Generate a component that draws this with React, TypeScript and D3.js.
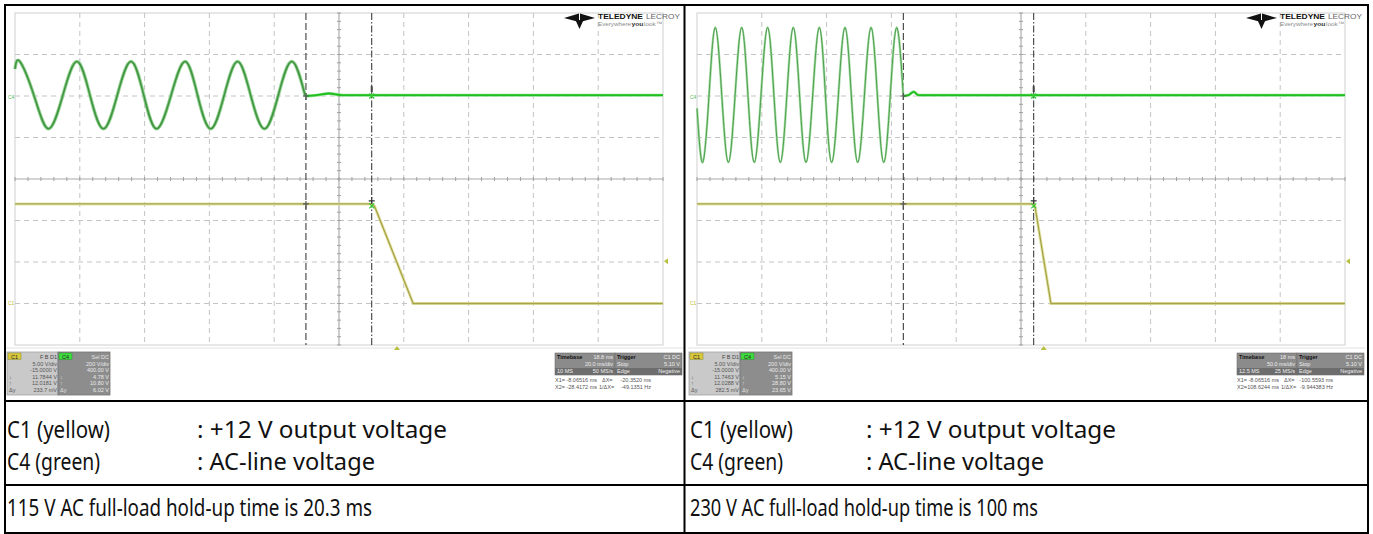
import React from "react";
import * as d3 from "d3";

const WIDTH = 1373;
const HEIGHT = 534;

// ---------- Panel 1 : 115 V AC, 20 ms/div ----------
const p1TimePerDiv = 20; // ms
const p1AcTimes = [0, 1.5, 5.9, 10.3, 14.7, 19.1, 23.2, 27.3, 31.5, 35.8, 39.8, 43.7, 48.1, 52.5, 56.4, 60.4, 64.5, 68.7, 72.8, 77.0, 81.2, 85.4, 89.6];
const p1AcVolts = [130, 166, 0, -158, 0, 166, 0, -158, 0, 166, 0, -158, 0, 166, 0, -158, 0, 166, 0, -158, 0, 166, 0];
const p1AcOffTimes = [89.6, 93, 97, 101, 110.1, 200];
const p1AcOffVolts = [0, 4, 12, 4, 4, 4];
const p1OutTimes = [0, 110.1, 111, 122.9, 200];
const p1OutVolts = [12.0, 12.0, 11.7, 0, 0];
const p1Cursors = [89.8, 110.1];
const p1TriggerTime = 117.9;

// ---------- Panel 2 : 230 V AC, 50 ms/div ----------
const p2TimePerDiv = 50; // ms
const p2AcTimes = [0, 4.4, 9.25, 14.1, 19.15, 24.2, 29.35, 34.5, 39.35, 44.2, 49.35, 54.5, 59.4, 64.3, 69.3, 74.3, 79.2, 84.1, 89.25, 94.4, 99.15, 103.9, 109.05, 114.2, 119.1, 124.0, 129.15, 134.3, 139.2, 144.1, 149.1, 154.1, 159.2];
const p2AcVolts = [-60, -320, 0, 330, 0, -320, 0, 330, 0, -320, 0, 330, 0, -320, 0, 330, 0, -320, 0, 330, 0, -320, 0, 330, 0, -320, 0, 330, 0, -320, 0, 330, 0];
const p2AcOffTimes = [159.2, 163, 167.2, 171, 259.8, 500];
const p2AcOffVolts = [0, 4, 20, 4, 4, 4];
const p2OutTimes = [0, 259.8, 260.8, 273.1, 500];
const p2OutVolts = [12.0, 12.0, 11.7, 0, 0];
const p2Cursors = [159.2, 259.8];
const p2TriggerTime = 267.5;

// ---------- Vertical settings ----------
const c1VoltsPerDiv = 5;
const c1Offset = -15;
const c4VoltsPerDiv = 200;
const c4Offset = 400;
const triggerLevel = 5.1;

// ---------- Readout texts ----------
const c1InfoHeader = "F B D1";
const c4InfoHeader = "Sel DC";
const p1C1Info = ["5.00 V/div", "-15.0000 V", "11.7844 V", "12.0181 V", "233.7 mV"];
const p1C4Info = ["200 V/div", "400.00 V", "4.78 V", "10.80 V", "6.02 V"];
const p2C1Info = ["5.00 V/div", "-15.0000 V", "11.7463 V", "12.0288 V", "282.5 mV"];
const p2C4Info = ["200 V/div", "400.00 V", "5.15 V", "28.80 V", "23.65 V"];
const p1Timebase = ["18.8 ms", "20.0 ms/div", "10 MS", "50 MS/s"];
const p2Timebase = ["18 ms", "50.0 ms/div", "12.5 MS", "25 MS/s"];
const triggerInfo = ["C1 DC", "5.10 V", "Negative"];
const p1CursorInfo = ["-8.06516 ms", "-28.4172 ms", "-20.3520 ms", "-49.1351 Hz"];
const p2CursorInfo = ["-8.06516 ms", "-108.6244 ms", "-100.5593 ms", "-9.944383 Hz"];

// ---------- Table texts ----------
const channelLabels = ["C1 (yellow)", "C4 (green)"];
const channelDescs = [": +12 V output voltage", ": AC-line voltage"];
const captions = ["115 V AC full-load hold-up time is 20.3 ms", "230 V AC full-load hold-up time is 100 ms"];

const GRID_L = 15;
const GRID_R = 663;
const GRID_T = 13;
const GRID_B = 345;
const PANEL_DX = [0, 682];

const zip = (a: number[], b: number[]) => a.map((v, i) => [v, b[i]] as [number, number]);

type ScopeProps = {
  dx: number;
  tpd: number;
  acT: number[];
  acV: number[];
  offT: number[];
  offV: number[];
  outT: number[];
  outV: number[];
  cursors: number[];
  trigT: number;
  c1Info: string[];
  c4Info: string[];
  tb: string[];
  cur: string[];
  thin: boolean;
};

const SMALL = "Liberation Sans, Arial, sans-serif";

function Scope(p: ScopeProps) {
  const { dx } = p;
  const x = d3.scaleLinear().domain([0, 10 * p.tpd]).range([GRID_L + dx, GRID_R + dx]);
  const c1Center = -c1Offset;
  const y1 = d3.scaleLinear().domain([c1Center - 4 * c1VoltsPerDiv, c1Center + 4 * c1VoltsPerDiv]).range([GRID_B, GRID_T]);
  const c4Center = -c4Offset;
  const y4 = d3.scaleLinear().domain([c4Center - 4 * c4VoltsPerDiv, c4Center + 4 * c4VoltsPerDiv]).range([GRID_B, GRID_T]);

  const xDivs = d3.range(0, 11).map((i) => x(i * p.tpd));
  const yDivs = d3.range(0, 9).map((i) => y1(c1Center - 4 * c1VoltsPerDiv + i * c1VoltsPerDiv));
  const xMinor = d3.range(0, 51).map((i) => x((i * p.tpd) / 5));
  const yMinor = d3.range(0, 41).map((i) => y1(c1Center - 4 * c1VoltsPerDiv + (i * c1VoltsPerDiv) / 5));
  const xc = x(5 * p.tpd);
  const yc = y1(c1Center);

  const acLine = d3.line<[number, number]>().x((d) => x(d[0])).y((d) => y4(d[1])).curve(d3.curveNatural);
  const flatLine = d3.line<[number, number]>().x((d) => x(d[0])).y((d) => y4(d[1])).curve(d3.curveMonotoneX);
  const outLine = d3.line<[number, number]>().x((d) => x(d[0])).y((d) => y1(d[1]));

  const acPath = acLine(zip(p.acT, p.acV)) || "";
  const offPath = flatLine(zip(p.offT, p.offV)) || "";
  const outPath = outLine(zip(p.outT, p.outV)) || "";

  const x1 = x(p.cursors[0]);
  const x2 = x(p.cursors[1]);
  const y4z = y4(0);
  const y1hi = y1(12);
  const xt = x(p.trigT);
  const yt = y1(triggerLevel);

  const infoRows = [365.5, 372, 378.5, 385, 391.5];

  return (
    <g>
      {/* scope screen background */}
      <rect x={6 + dx} y={6} width={677} height={394} fill="#ffffff" />
      <rect x={GRID_L + dx} y={GRID_T} width={GRID_R - GRID_L} height={GRID_B - GRID_T} fill="#ffffff" stroke="#cfcfcf" strokeWidth={1} />
      <line x1={6 + dx} x2={683 + dx} y1={348} y2={348} stroke="#e2e2e2" strokeWidth={1} />

      {/* dashed grid */}
      {xDivs.slice(1, 10).map((gx, i) =>
        i === 4 ? null : (
          <line key={"gx" + i} x1={gx} x2={gx} y1={GRID_T} y2={GRID_B} stroke="#c4c4c4" strokeWidth={1} strokeDasharray="5,4" />
        )
      )}
      {yDivs.slice(1, 8).map((gy, i) =>
        i === 3 ? null : (
          <line key={"gy" + i} x1={GRID_L + dx} x2={GRID_R + dx} y1={gy} y2={gy} stroke="#c4c4c4" strokeWidth={1} strokeDasharray="5,4" />
        )
      )}
      {/* center axes with minor ticks */}
      <line x1={xc} x2={xc} y1={GRID_T} y2={GRID_B} stroke="#9a9a9a" strokeWidth={1} />
      <line x1={GRID_L + dx} x2={GRID_R + dx} y1={yc} y2={yc} stroke="#a8a8a8" strokeWidth={1} />
      {xMinor.map((mx, i) => (
        <line key={"mx" + i} x1={mx} x2={mx} y1={yc - 2} y2={yc + 2} stroke="#a0a0a0" strokeWidth={1} />
      ))}
      {yMinor.map((my, i) => (
        <line key={"my" + i} x1={xc - 2} x2={xc + 2} y1={my} y2={my} stroke="#a0a0a0" strokeWidth={1} />
      ))}

      {/* cursors */}
      <line x1={x1} x2={x1} y1={GRID_T} y2={GRID_B} stroke="#2a2a2a" strokeWidth={1} strokeDasharray="7,3" />
      <line x1={x2} x2={x2} y1={GRID_T} y2={GRID_B} stroke="#2a2a2a" strokeWidth={1} strokeDasharray="7,2,1.5,2" />

      {/* C1 trace (yellow) */}
      <path d={outPath} fill="none" stroke="#e4e4a8" strokeWidth={3} />
      <path d={outPath} fill="none" stroke="#a8a44a" strokeWidth={1.3} />

      {/* C4 trace (green) */}
      <path d={acPath} fill="none" stroke={p.thin ? "#a6dca6" : "#93d093"} strokeWidth={p.thin ? 2.4 : 3.4} />
      <path d={acPath} fill="none" stroke={p.thin ? "#4c9e4c" : "#3f963f"} strokeWidth={p.thin ? 1 : 1.5} />
      <path d={offPath} fill="none" stroke="#8fe08f" strokeWidth={3} />
      <path d={offPath} fill="none" stroke="#1fbf1f" strokeWidth={1.8} />

      {/* cursor markers */}
      <path d={`M${x1 - 3},${y4z}H${x1 + 3}M${x1},${y4z - 3}V${y4z + 4}`} stroke="#555" strokeWidth={1.2} />
      <path d={`M${x1 - 3},${y1hi}H${x1 + 3}M${x1},${y1hi - 3}V${y1hi + 5}`} stroke="#555" strokeWidth={1.2} />
      <rect x={x2 - 1} y={y4z - 10} width={2} height={6} fill="#444" />
      <path d={`M${x2 - 2.5},${y4z - 2.5}L${x2 + 2.5},${y4z + 2.5}M${x2 + 2.5},${y4z - 2.5}L${x2 - 2.5},${y4z + 2.5}`} stroke="#33cc33" strokeWidth={1.2} />
      <path d={`M${x2 - 3},${y1hi - 3}H${x2 + 3}M${x2},${y1hi - 7}V${y1hi}`} stroke="#333" strokeWidth={1.2} />
      <path d={`M${x2 - 2.5},${y1hi - 0.5}L${x2 + 2.5},${y1hi + 4.5}M${x2 + 2.5},${y1hi - 0.5}L${x2 - 2.5},${y1hi + 4.5}`} stroke="#33cc33" strokeWidth={1.2} />

      {/* trigger markers */}
      <path d={`M${xt},${GRID_B + 1}l-3,4h6z`} fill="#b8c040" />
      <path d={`M${GRID_R + dx + 1},${yt}l4,-3v6z`} fill="#b8c040" />

      {/* channel ground labels */}
      <text x={8 + dx} y={99} fontSize={5} fill="#55bb55" fontFamily={SMALL}>C4</text>
      <text x={8 + dx} y={305} fontSize={5} fill="#c8b830" fontFamily={SMALL}>C1</text>

      {/* logo */}
      <g transform={`translate(${564 + dx},12)`}>
        <polygon points="0,6 15,1.5 15,10" fill="#111" />
        <polygon points="31,6 16,1.5 16,10" fill="#111" />
        <polygon points="11.5,8 19.5,8 15.5,17" fill="#111" />
      </g>
      <text x={598 + dx} y={19} fontSize={8} fontWeight="bold" fill="#111" fontFamily={SMALL} textLength={45} lengthAdjust="spacingAndGlyphs">TELEDYNE</text>
      <text x={646 + dx} y={19} fontSize={8} fill="#666" fontFamily={SMALL} textLength={34} lengthAdjust="spacingAndGlyphs">LECROY</text>
      <text x={598 + dx} y={26} fontSize={6.2} fill="#8a8a8a" fontFamily={SMALL} textLength={33} lengthAdjust="spacingAndGlyphs">Everywhere</text>
      <text x={631.5 + dx} y={26} fontSize={6.2} fontWeight="bold" fill="#333" fontFamily={SMALL} textLength={12} lengthAdjust="spacingAndGlyphs">you</text>
      <text x={644 + dx} y={26} fontSize={6.2} fill="#8a8a8a" fontFamily={SMALL} textLength={18} lengthAdjust="spacingAndGlyphs">look™</text>

      {/* C1 readout */}
      <rect x={7 + dx} y={352} width={51} height={43} fill="#c9c9c9" stroke="#a3a3a3" strokeWidth={0.8} />
      <rect x={8 + dx} y={353} width={13} height={6.5} fill="#d9c83a" stroke="#8a8a30" strokeWidth={0.5} />
      <text x={14.5 + dx} y={358.5} fontSize={5.5} textAnchor="middle" fill="#222" fontFamily={SMALL}>C1</text>
      <text x={57 + dx} y={358.5} fontSize={5.5} textAnchor="end" fill="#444" fontFamily={SMALL}>{c1InfoHeader}</text>
      {p.c1Info.map((s, i) => (
        <text key={"c1i" + i} x={57 + dx} y={infoRows[i]} fontSize={5.5} textAnchor="end" fill="#555" fontFamily={SMALL}>{s}</text>
      ))}
      {["↓", "↑", "Δy"].map((s, i) => (
        <text key={"c1s" + i} x={9 + dx} y={infoRows[i + 2]} fontSize={5.5} fill="#555" fontFamily={SMALL}>{s}</text>
      ))}

      {/* C4 readout */}
      <rect x={58 + dx} y={352} width={52} height={43} fill="#8d8d8d" stroke="#777" strokeWidth={0.8} />
      <rect x={59 + dx} y={353} width={13} height={6.5} fill="#3fdc3f" stroke="#2a8a2a" strokeWidth={0.5} />
      <text x={65.5 + dx} y={358.5} fontSize={5.5} textAnchor="middle" fill="#222" fontFamily={SMALL}>C4</text>
      <text x={109 + dx} y={358.5} fontSize={5.5} textAnchor="end" fill="#e6e6e6" fontFamily={SMALL}>{c4InfoHeader}</text>
      {p.c4Info.map((s, i) => (
        <text key={"c4i" + i} x={109 + dx} y={infoRows[i]} fontSize={5.5} textAnchor="end" fill="#eaeaea" fontFamily={SMALL}>{s}</text>
      ))}
      {["↓", "↑", "Δy"].map((s, i) => (
        <text key={"c4s" + i} x={60 + dx} y={infoRows[i + 2]} fontSize={5.5} fill="#e0e0e0" fontFamily={SMALL}>{s}</text>
      ))}

      {/* timebase / trigger readout */}
      <rect x={555 + dx} y={353} width={60} height={22} fill="#8b8b8b" stroke="#707070" strokeWidth={0.6} />
      <rect x={555 + dx} y={368} width={60} height={7} fill="#6d6d6d" />
      <rect x={615 + dx} y={353} width={67} height={22} fill="#8b8b8b" stroke="#707070" strokeWidth={0.6} />
      <rect x={615 + dx} y={368} width={67} height={7} fill="#6d6d6d" />
      <text x={557 + dx} y={358.5} fontSize={5.5} fontWeight="bold" fill="#111" fontFamily={SMALL}>Timebase</text>
      <text x={613 + dx} y={358.5} fontSize={5.5} textAnchor="end" fill="#eee" fontFamily={SMALL}>{p.tb[0]}</text>
      <text x={613 + dx} y={365.5} fontSize={5.5} textAnchor="end" fill="#eee" fontFamily={SMALL}>{p.tb[1]}</text>
      <text x={557 + dx} y={373} fontSize={5.5} fill="#eee" fontFamily={SMALL}>{p.tb[2]}</text>
      <text x={613 + dx} y={373} fontSize={5.5} textAnchor="end" fill="#eee" fontFamily={SMALL}>{p.tb[3]}</text>
      <text x={617 + dx} y={358.5} fontSize={5.5} fontWeight="bold" fill="#111" fontFamily={SMALL}>Trigger</text>
      <text x={680 + dx} y={358.5} fontSize={5.5} textAnchor="end" fill="#eee" fontFamily={SMALL}>{triggerInfo[0]}</text>
      <text x={617 + dx} y={365.5} fontSize={5.5} fill="#eee" fontFamily={SMALL}>Stop</text>
      <text x={680 + dx} y={365.5} fontSize={5.5} textAnchor="end" fill="#eee" fontFamily={SMALL}>{triggerInfo[1]}</text>
      <text x={617 + dx} y={373} fontSize={5.5} fill="#eee" fontFamily={SMALL}>Edge</text>
      <text x={680 + dx} y={373} fontSize={5.5} textAnchor="end" fill="#eee" fontFamily={SMALL}>{triggerInfo[2]}</text>

      {/* cursor readout */}
      <text x={555 + dx} y={382} fontSize={5.5} fill="#555" fontFamily={SMALL}>X1=</text>
      <text x={597 + dx} y={382} fontSize={5.5} textAnchor="end" fill="#555" fontFamily={SMALL}>{p.cur[0]}</text>
      <text x={602 + dx} y={382} fontSize={5.5} fill="#555" fontFamily={SMALL}>ΔX=</text>
      <text x={651 + dx} y={382} fontSize={5.5} textAnchor="end" fill="#555" fontFamily={SMALL}>{p.cur[2]}</text>
      <text x={555 + dx} y={389} fontSize={5.5} fill="#555" fontFamily={SMALL}>X2=</text>
      <text x={597 + dx} y={389} fontSize={5.5} textAnchor="end" fill="#555" fontFamily={SMALL}>{p.cur[1]}</text>
      <text x={599 + dx} y={389} fontSize={5.5} fill="#555" fontFamily={SMALL}>1/ΔX=</text>
      <text x={651 + dx} y={389} fontSize={5.5} textAnchor="end" fill="#555" fontFamily={SMALL}>{p.cur[3]}</text>
    </g>
  );
}

const TABLE_FONT = "'Noto Sans', 'Open Sans', sans-serif";
const labelWidths = [103, 93];
const descWidths = [250, 178];
const captionWidths = [365, 348];

export default function App() {
  const colX = [7, 690];
  const descX = [197, 866];
  const rowBase = [438, 470];
  return (
    <svg
      width={WIDTH}
      height={HEIGHT}
      viewBox={`0 0 ${WIDTH} ${HEIGHT}`}
      style={{ position: "absolute", left: 0, top: 0, display: "block", background: "#fff" }}
    >
      <rect x={0} y={0} width={WIDTH} height={HEIGHT} fill="#ffffff" />
      <Scope dx={PANEL_DX[0]} tpd={p1TimePerDiv} acT={p1AcTimes} acV={p1AcVolts} offT={p1AcOffTimes} offV={p1AcOffVolts}
        outT={p1OutTimes} outV={p1OutVolts} cursors={p1Cursors} trigT={p1TriggerTime}
        c1Info={p1C1Info} c4Info={p1C4Info} tb={p1Timebase} cur={p1CursorInfo} thin={false} />
      <Scope dx={PANEL_DX[1]} tpd={p2TimePerDiv} acT={p2AcTimes} acV={p2AcVolts} offT={p2AcOffTimes} offV={p2AcOffVolts}
        outT={p2OutTimes} outV={p2OutVolts} cursors={p2Cursors} trigT={p2TriggerTime}
        c1Info={p2C1Info} c4Info={p2C4Info} tb={p2Timebase} cur={p2CursorInfo} thin={true} />

      {/* table texts */}
      {colX.map((cx, c) => (
        <g key={"col" + c}>
          {channelLabels.map((s, r) => (
            <text key={"l" + r} x={cx} y={rowBase[r]} fontSize={24} fontFamily={TABLE_FONT} fill="#111"
              textLength={labelWidths[r]} lengthAdjust="spacingAndGlyphs">{s}</text>
          ))}
          {channelDescs.map((s, r) => (
            <text key={"d" + r} x={descX[c]} y={rowBase[r]} fontSize={24} fontFamily={TABLE_FONT} fill="#111"
              textLength={descWidths[r]} lengthAdjust="spacingAndGlyphs">{s}</text>
          ))}
          <text x={cx} y={516} fontSize={24} fontFamily={TABLE_FONT} fill="#111"
            textLength={captionWidths[c]} lengthAdjust="spacingAndGlyphs">{captions[c]}</text>
        </g>
      ))}

      {/* table borders */}
      <rect x={5} y={5} width={1363} height={528} fill="none" stroke="#000" strokeWidth={2} />
      <line x1={684.5} x2={684.5} y1={5} y2={534} stroke="#000" strokeWidth={2} />
      <line x1={5} x2={1368} y1={401} y2={401} stroke="#000" strokeWidth={2} />
      <line x1={5} x2={1368} y1={485} y2={485} stroke="#000" strokeWidth={2} />
    </svg>
  );
}
